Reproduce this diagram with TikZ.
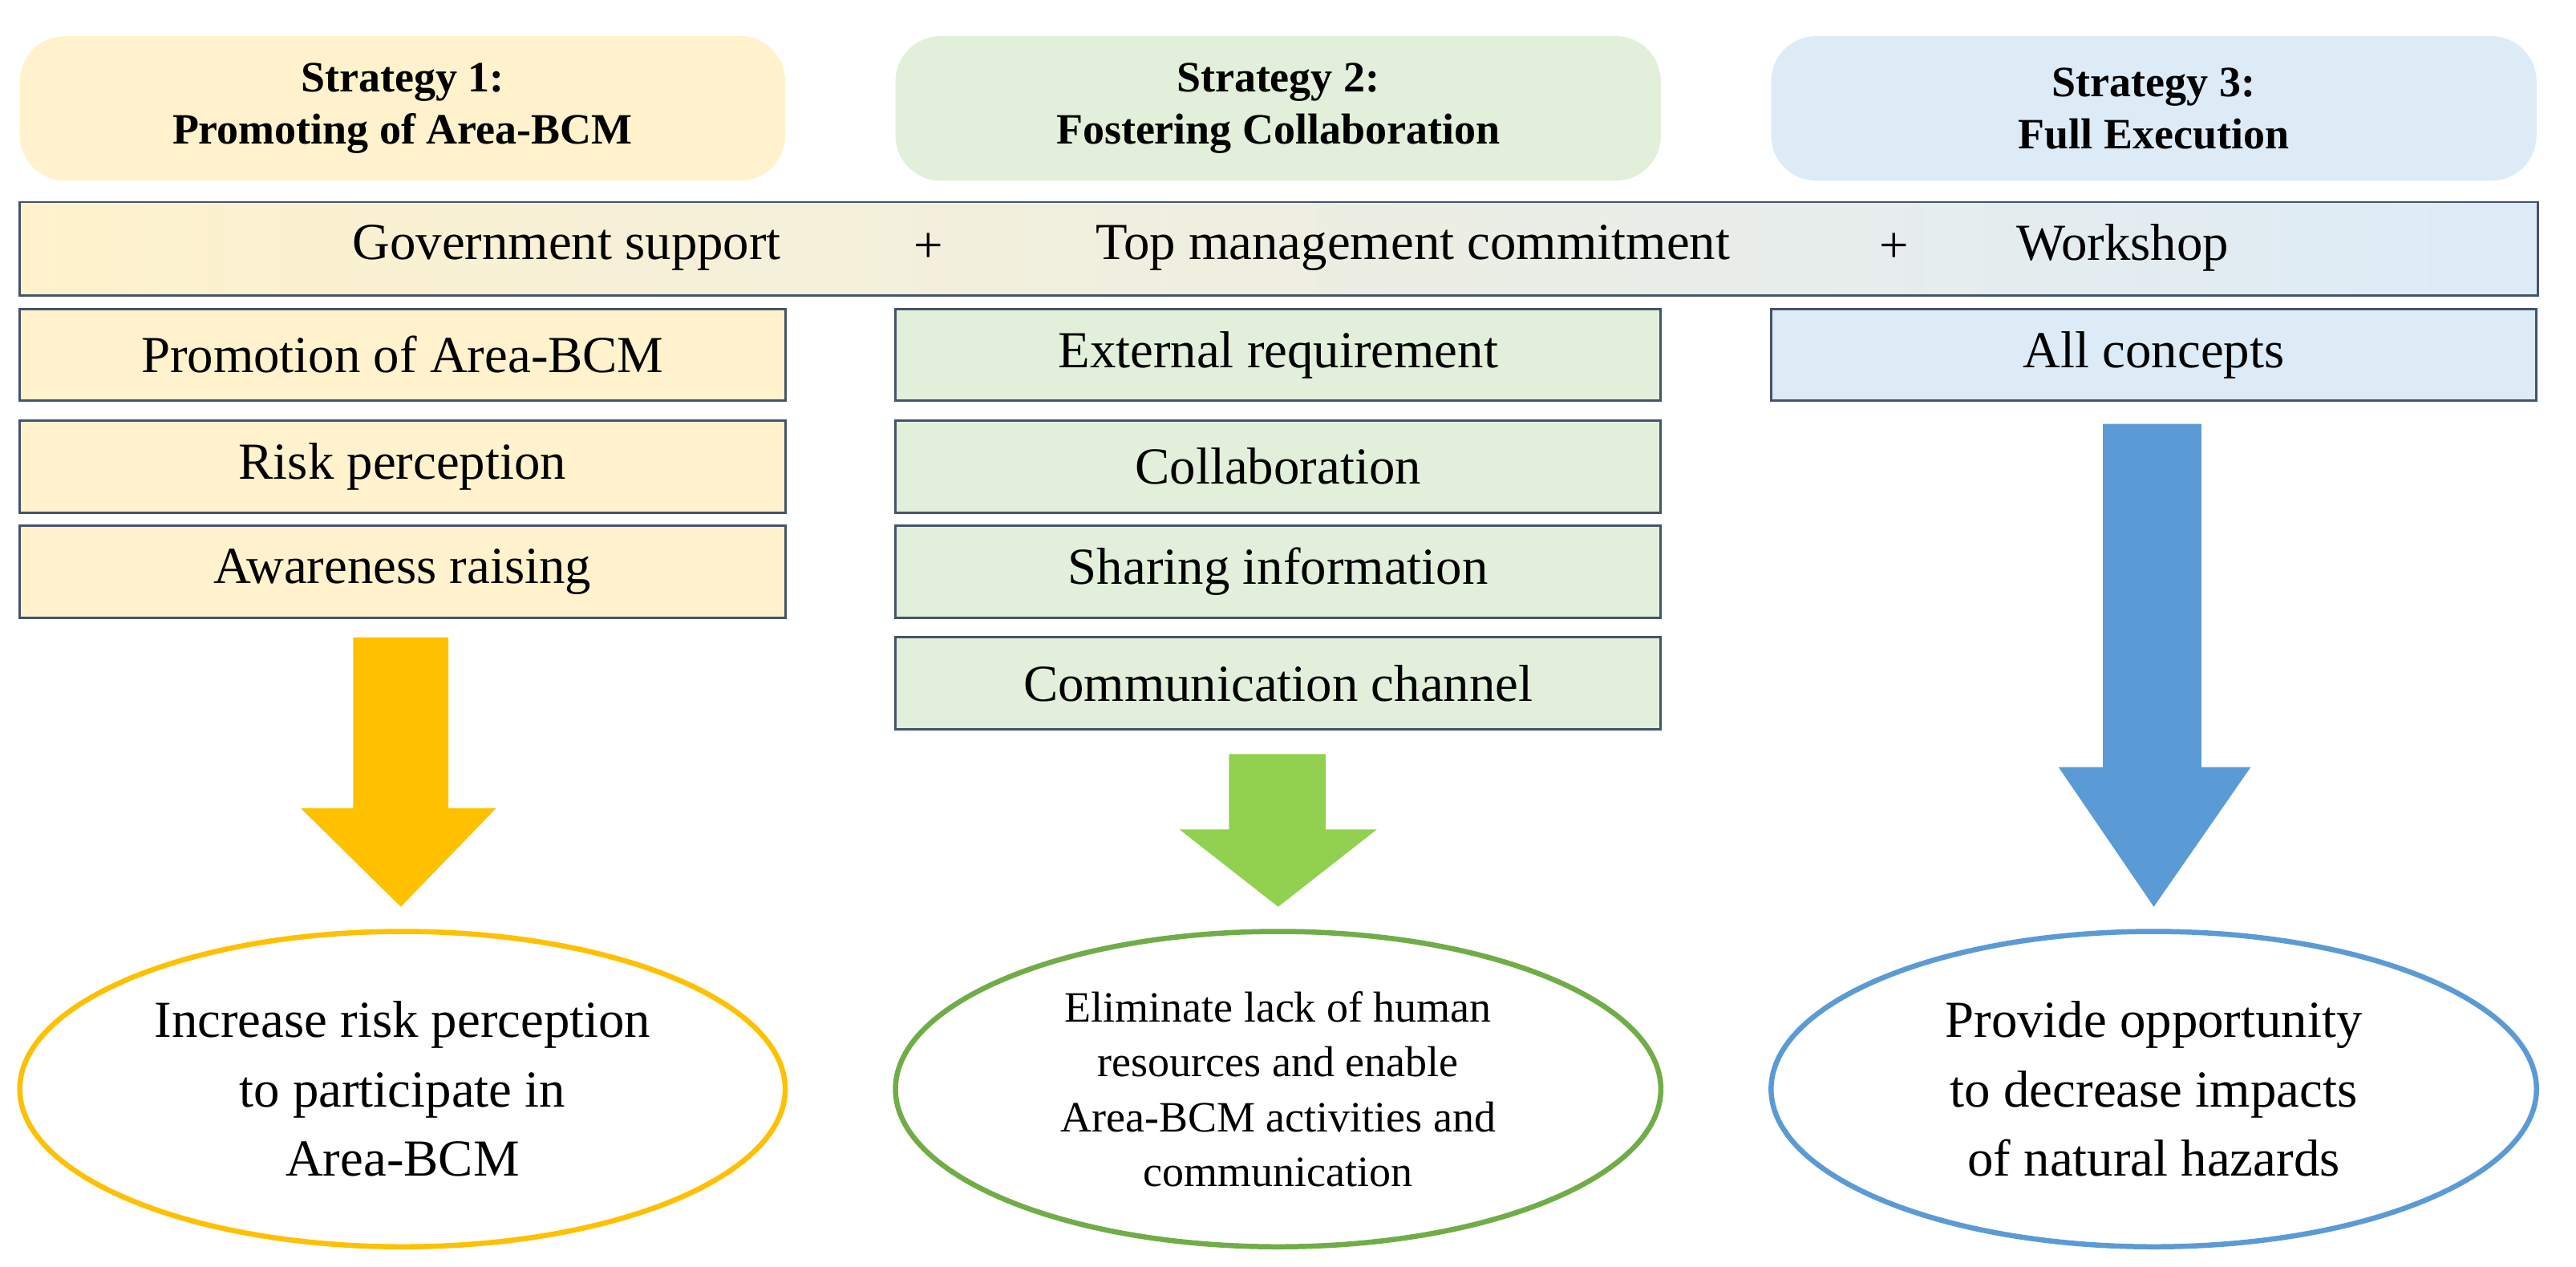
\documentclass[tikz,border=0pt]{standalone}
\usepackage{fontspec}
\setmainfont{Liberation Serif}
\usetikzlibrary{shapes.geometric}
\definecolor{y1}{HTML}{FFF2CC}\definecolor{g1}{HTML}{E2EFDA}\definecolor{b1}{HTML}{DDEBF7}
\definecolor{ya}{HTML}{FFC000}\definecolor{ga}{HTML}{92D050}\definecolor{ba}{HTML}{5B9BD5}
\definecolor{ge}{HTML}{70AD47}\definecolor{bd}{HTML}{44546A}
\begin{document}
\begin{tikzpicture}[x=0.02cm,y=-0.02cm,
 head/.style={rounded corners=0.55cm,minimum width=9.32cm,minimum height=1.76cm,align=center,font=\fontsize{15}{18}\selectfont\bfseries},
 box/.style={draw=bd,line width=0.8pt,minimum height=1.12cm,font=\fontsize{18}{21}\selectfont},
 ell/.style={ellipse,draw,line width=1.8pt,fill=white,minimum width=9.32cm,minimum height=3.84cm,align=center}]
\useasboundingbox (0,0) rectangle (1568,771);
\node[head,fill=y1] (s1) at (245,66) {Strategy 1:\\Promoting of Area-BCM};
\node[head,fill=g1] (s2) at (778,66) {Strategy 2:\\Fostering Collaboration};
\node[head,fill=b1] (s3) at (1311,66) {Strategy 3:\\Full Execution};
\shade[left color=y1,middle color=g1,right color=b1] (12,123) rectangle (1545,180);
\draw[bd,line width=0.8pt] (12,123) rectangle (1545,180);
\begin{scope}[every node/.style={font=\fontsize{18}{21}\selectfont}]
\node (t1) at (345,151) {Government support};
\node (p1) at (565,151) {+};
\node (t2) at (860,151) {Top management commitment};
\node (p2) at (1153,151) {+};
\node (t3) at (1292,151) {Workshop};
\end{scope}
\begin{scope}[box/.append style={minimum width=9.32cm}]
\node[box,fill=y1] (a1) at (245,216) {Promotion of Area-BCM};
\node[box,fill=y1] (a2) at (245,284) {Risk perception};
\node[box,fill=y1] (a3) at (245,348) {Awareness raising};
\node[box,fill=g1] (b1n) at (778,216) {External requirement};
\node[box,fill=g1] (b2) at (778,284) {Collaboration};
\node[box,fill=g1] (b3) at (778,348) {Sharing information};
\node[box,fill=g1] (b4) at (778,416) {Communication channel};
\node[box,fill=b1] (c1) at (1311,216) {All concepts};
\end{scope}
\fill[ya] (215,388)--(273,388)--(273,492)--(302,492)--(244,552)--(183,492)--(215,492)--cycle;
\fill[ga] (748,459)--(807,459)--(807,505)--(838,505)--(778,552)--(718,505)--(748,505)--cycle;
\fill[ba] (1280,258)--(1340,258)--(1340,467)--(1370,467)--(1311,552)--(1253,467)--(1280,467)--cycle;
\node[ell,draw=ya,font=\fontsize{18}{24}\selectfont] (e1) at (245,663) {Increase risk perception\\to participate in\\Area-BCM};
\node[ell,draw=ge,font=\fontsize{15}{19}\selectfont] (e2) at (778,663) {Eliminate lack of human\\resources and enable\\Area-BCM activities and\\communication};
\node[ell,draw=ba,font=\fontsize{18}{24}\selectfont] (e3) at (1311,663) {Provide opportunity\\to decrease impacts\\of natural hazards};
\end{tikzpicture}
\end{document}
